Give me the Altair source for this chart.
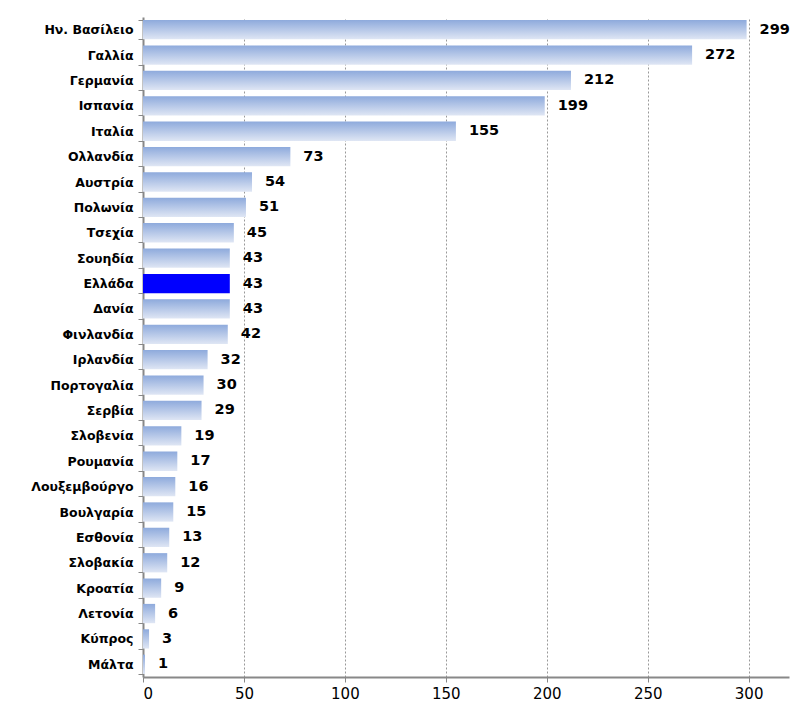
import altair as alt
import pandas as pd

countries = ["Ην. Βασίλειο", "Γαλλία", "Γερμανία", "Ισπανία", "Ιταλία", "Ολλανδία",
             "Αυστρία", "Πολωνία", "Τσεχία", "Σουηδία", "Ελλάδα", "Δανία", "Φινλανδία",
             "Ιρλανδία", "Πορτογαλία", "Σερβία", "Σλοβενία", "Ρουμανία", "Λουξεμβούργο",
             "Βουλγαρία", "Εσθονία", "Σλοβακία", "Κροατία", "Λετονία", "Κύπρος", "Μάλτα"]
values = [299, 272, 212, 199, 155, 73, 54, 51, 45, 43, 43, 43, 42, 32, 30, 29, 19, 17,
          16, 15, 13, 12, 9, 6, 3, 1]
highlight = "Ελλάδα"

df = pd.DataFrame({"country": countries, "value": values})
df["hl"] = df["country"] == highlight

font = "DejaVu Sans"
y_enc = alt.Y("country:N", sort=countries, title=None,
              scale=alt.Scale(paddingInner=0.24, paddingOuter=0.12),
              axis=alt.Axis(labelFont=font, labelFontWeight="bold", labelFontSize=12.5,
                            labelColor="black", labelPadding=5, tickBand="extent",
                            tickColor="#888888", tickSize=5, domainColor="#888888",
                            domainWidth=2, minExtent=135, maxExtent=135))
x_enc = alt.X("value:Q", title=None,
              scale=alt.Scale(domain=[0, 320], nice=False),
              axis=alt.Axis(values=[0, 50, 100, 150, 200, 250, 300], labelFont=font,
                            labelFontSize=15, labelColor="black", labelPadding=4,
                            grid=True, gridDash=[2, 2], gridColor="#999999",
                            domainColor="#888888", domainWidth=2, tickColor="#888888",
                            tickSize=5))

grad = alt.Gradient(gradient="linear",
                    stops=[alt.GradientStop(color="#8eaadc", offset=0),
                           alt.GradientStop(color="#dfe6f4", offset=1)],
                    x1=0, x2=0, y1=0, y2=1)

base = alt.Chart(df)
bars = base.transform_filter("!datum.hl").mark_bar(color=grad).encode(x=x_enc, y=y_enc)
hlbar = base.transform_filter("datum.hl").mark_bar(color="#0000ff").encode(x=x_enc, y=y_enc)
labels = base.mark_text(align="left", dx=13, font=font, fontWeight="bold", fontSize=14.5,
                        color="black").encode(x=x_enc, y=y_enc, text="value:Q")

chart = (bars + hlbar + labels).properties(
    width=646, height=660,
    padding={"left": 0, "top": 3, "right": 0, "bottom": 0}
).configure_view(stroke=None)

chart.save("out.html", embed_options={"renderer": "svg", "actions": False})
